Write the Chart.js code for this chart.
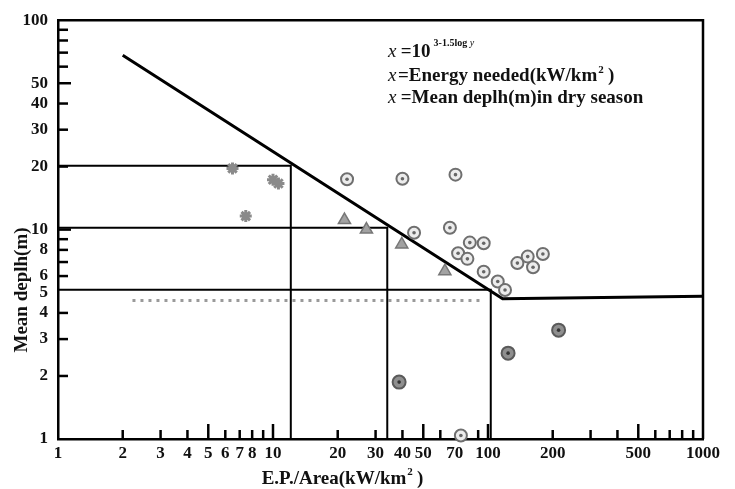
<!DOCTYPE html>
<html>
<head>
<meta charset="utf-8">
<script src="https://cdn.jsdelivr.net/npm/chart.js@4"></script>
<style>
  body { margin: 0; background: #fff; }
  #wrap { width: 735px; height: 489px; position: relative; }
</style>
</head>
<body>
<div id="wrap"><canvas id="depthChart"></canvas></div>
<script>
// axis tick labels and tick marks
const xTickLabels = [1, 2, 3, 4, 5, 6, 7, 8, 10, 20, 30, 40, 50, 70, 100, 200, 500, 1000];
const yTickLabels = [1, 2, 3, 4, 5, 6, 8, 10, 20, 30, 40, 50, 100];
const xMarks = [2, 3, 4, 5, 6, 7, 8, 9, 10, 20, 30, 40, 50, 60, 90, 100, 200, 300, 400, 500, 600, 700, 800, 900];
const xLongMarks = [5, 10, 50, 100, 500];
const yMarks = [2, 3, 4, 6, 7, 8, 9, 20, 30, 40, 60, 70, 80, 90];
const yLongMarks = [10, 50];

// sites: circles, darker circles, triangles, stars
const circleX = [22.1, 40, 70.6, 45.3, 66.5, 82.3, 95.5, 72.6, 80.2, 95.5, 111, 120, 137, 153, 162, 180, 74.8];
const circleY = [17.4, 17.5, 18.3, 9.66, 10.2, 8.67, 8.61, 7.71, 7.25, 6.29, 5.65, 5.15, 6.92, 7.43, 6.61, 7.65, 1.04];
const darkX = [38.6, 124, 213];
const darkY = [1.87, 2.57, 3.31];
const triX = [21.5, 27.2, 39.7, 63];
const triY = [11.1, 10.0, 8.49, 6.33];
const starX = [6.48, 10.0, 10.6, 7.47];
const starY = [19.6, 17.3, 16.6, 11.6];

// boundary line x = 10^(3-1.5 log y), then flat
const boundX = [2, 117, 1000];
const boundY = [68, 4.67, 4.81];
// depth levels with their cut-offs
const level20X = [1, 12.1, 12.1];
const level20Y = [20.2, 20.2, 1];
const level10X = [1, 34, 34];
const level10Y = [10.2, 10.2, 1];
const level5X = [1, 103, 103];
const level5Y = [5.16, 5.16, 1];
const dottedX = [2.22, 95];
const dottedY = [4.59, 4.59];

const pts = (xs, ys) => xs.map((x, i) => ({ x: x, y: ys[i] }));
const serif = '"Liberation Serif", "DejaVu Serif", serif';

const lineSet = (xs, ys, w) => ({
  type: 'line', data: pts(xs, ys), borderColor: '#000', borderWidth: w,
  pointRadius: 0, fill: false, tension: 0, order: 5
});

const decor = {
  id: 'decor',
  afterDraw(chart) {
    const c = chart.ctx;
    const a = chart.chartArea;
    const xs = chart.scales.x, ys = chart.scales.y;
    c.save();
    c.strokeStyle = '#000';
    // frame top and right
    c.lineWidth = 2.5;
    c.beginPath();
    c.moveTo(a.left, a.top); c.lineTo(a.right, a.top); c.lineTo(a.right, a.bottom);
    c.stroke();
    // inward tick marks
    xMarks.forEach(v => {
      const px = xs.getPixelForValue(v);
      const len = xLongMarks.includes(v) ? 15 : 9;
      c.beginPath(); c.moveTo(px, a.bottom); c.lineTo(px, a.bottom - len); c.stroke();
    });
    yMarks.concat(yLongMarks).forEach(v => {
      const py = ys.getPixelForValue(v);
      const len = yLongMarks.includes(v) ? 13 : 10;
      c.beginPath(); c.moveTo(a.left, py); c.lineTo(a.left + len, py); c.stroke();
    });
    // formula block
    c.fillStyle = '#111';
    c.textBaseline = 'alphabetic';
    c.font = 'italic 19px ' + serif;
    c.fillText('x', 388, 57);
    c.fillText('x', 388, 81);
    c.fillText('x', 388, 103);
    c.font = 'bold 19px ' + serif;
    c.fillText(' =10', 396, 57);
    let w = c.measureText(' =10').width;
    c.fillText('=Energy needed(kW/km', 398, 81);
    const w2 = c.measureText('=Energy needed(kW/km').width;
    c.fillText(' =Mean deplh(m)in dry season', 396, 103);
    c.font = 'bold 11px ' + serif;
    c.fillText('2', 398 + w2 + 1, 73);
    c.font = 'bold 19px ' + serif;
    c.fillText(' )', 398 + w2 + 6, 81);
    c.font = 'bold 10px ' + serif;
    const sx = 396 + w + 3;
    c.fillText('3-1.5log', sx, 46);
    const w3 = c.measureText('3-1.5log').width;
    c.font = 'italic 10px ' + serif;
    c.fillText(' y', sx + w3, 46);
    // axis titles
    c.font = 'bold 19px ' + serif;
    c.textAlign = 'center';
    c.fillText('E.P./Area(kW/km', 334, 484);
    w = c.measureText('E.P./Area(kW/km').width;
    c.textAlign = 'left';
    c.font = 'bold 11px ' + serif;
    c.fillText('2', 334 + w / 2 + 1, 475);
    c.font = 'bold 19px ' + serif;
    c.fillText(' )', 334 + w / 2 + 6, 484);
    c.translate(27, 290);
    c.rotate(-Math.PI / 2);
    c.textAlign = 'center';
    c.fillText('Mean deplh(m)', 0, 0);
    c.restore();
  }
};

new Chart(document.getElementById('depthChart'), {
  type: 'scatter',
  data: {
    datasets: [
      lineSet(boundX, boundY, 3),
      lineSet(level20X, level20Y, 2),
      lineSet(level10X, level10Y, 2),
      lineSet(level5X, level5Y, 2),
      Object.assign(lineSet(dottedX, dottedY, 3), { borderColor: '#9a9a9a', borderDash: [3, 5] }),
      { data: pts(starX, starY), pointStyle: 'star', pointRadius: 6, borderColor: '#8a8a8a', borderWidth: 3, clip: false, order: 3 },
      { data: pts(triX, triY), pointStyle: 'triangle', pointRadius: 7, backgroundColor: '#a2a2a2', borderColor: '#777', borderWidth: 1.5, clip: false, order: 3 },
      { data: pts(circleX, circleY), pointStyle: 'circle', pointRadius: 6, backgroundColor: '#ececec', borderColor: '#6f6f6f', borderWidth: 2, clip: false, order: 2 },
      { data: pts(circleX, circleY), pointStyle: 'circle', pointRadius: 1.8, backgroundColor: '#666', borderWidth: 0, clip: false, order: 1 },
      { data: pts(darkX, darkY), pointStyle: 'circle', pointRadius: 6.5, backgroundColor: '#8f8f8f', borderColor: '#5a5a5a', borderWidth: 2, clip: false, order: 2 },
      { data: pts(darkX, darkY), pointStyle: 'circle', pointRadius: 1.8, backgroundColor: '#333', borderWidth: 0, clip: false, order: 1 }
    ]
  },
  options: {
    responsive: true,
    maintainAspectRatio: false,
    animation: false,
    layout: { padding: { top: 13, right: 32, left: 0, bottom: 0 } },
    plugins: { legend: { display: false }, tooltip: { enabled: false } },
    scales: {
      x: {
        type: 'logarithmic', min: 1, max: 1000,
        afterBuildTicks: s => { s.ticks = xTickLabels.map(v => ({ value: v })); },
        afterFit: s => { s.height = 50; },
        grid: { display: false, drawTicks: false },
        border: { display: true, color: '#000', width: 2.5 },
        ticks: {
          autoSkip: false, maxRotation: 0, padding: 4, color: '#111',
          font: { family: serif, size: 17, weight: 'bold' },
          callback: v => String(v)
        }
      },
      y: {
        type: 'logarithmic', min: 1, max: 100,
        afterBuildTicks: s => { s.ticks = yTickLabels.map(v => ({ value: v })); },
        afterFit: s => { s.width = 58; },
        grid: { display: false, drawTicks: false },
        border: { display: true, color: '#000', width: 2.5 },
        ticks: {
          autoSkip: false, padding: 10, color: '#111',
          font: { family: serif, size: 17, weight: 'bold' },
          callback: v => String(v)
        }
      }
    }
  },
  plugins: [decor]
});
</script>
</body>
</html>
